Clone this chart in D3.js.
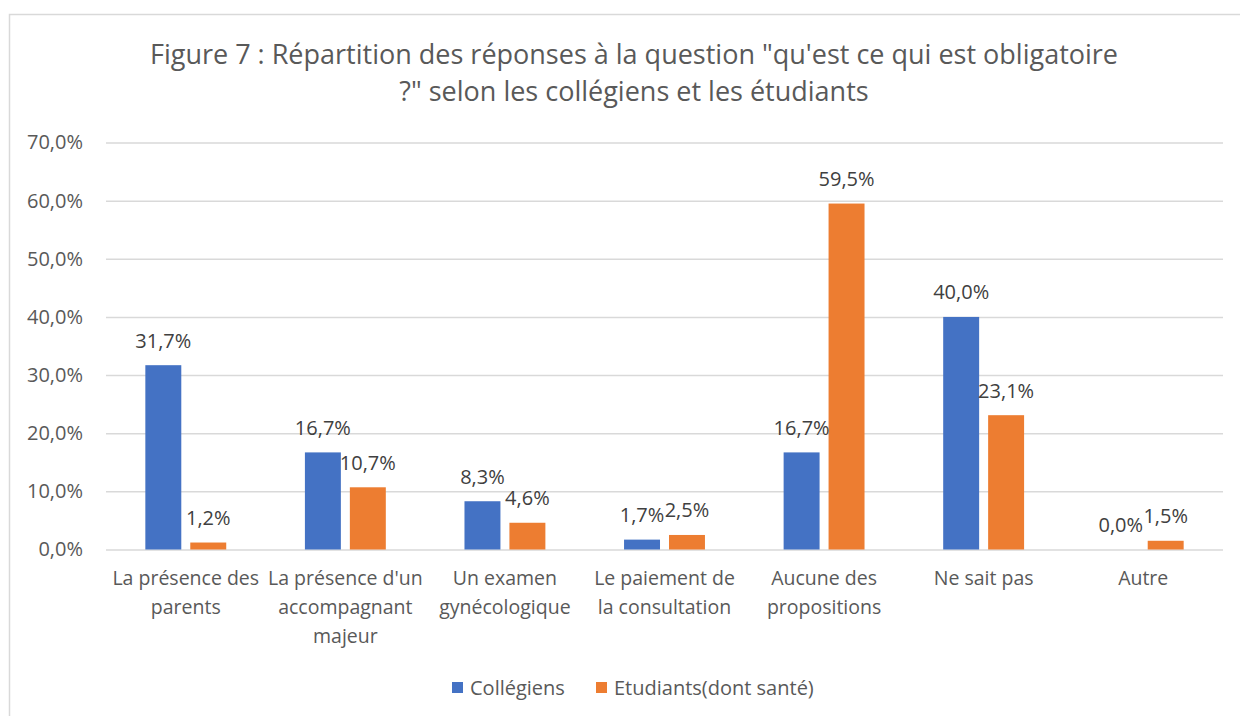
<!DOCTYPE html>
<html>
<head>
<meta charset="utf-8">
<script src="https://cdn.jsdelivr.net/npm/d3@7"></script>
<style>
  body { margin: 0; background: #fff; }
  text { font-family: "Open Sans", "Noto Sans", sans-serif; }
</style>
</head>
<body>
<div id="chart"></div>
<script>
// data
var categories = ["presence_parents", "accompagnant", "examen", "paiement", "aucune", "nsp", "autre"];
var categoryLabels = [
  ["La présence des", "parents"],
  ["La présence d'un", "accompagnant", "majeur"],
  ["Un examen", "gynécologique"],
  ["Le paiement de", "la consultation"],
  ["Aucune des", "propositions"],
  ["Ne sait pas"],
  ["Autre"]
];
var seriesNames = ["Collégiens", "Etudiants(dont santé)"];
var collegiens = [0.317, 0.167, 0.083, 0.017, 0.167, 0.400, 0.000];
var etudiants = [0.012, 0.107, 0.046, 0.025, 0.595, 0.231, 0.015];
var yTicks = [0, 0.1, 0.2, 0.3, 0.4, 0.5, 0.6, 0.7];
var titleLines = [
  "Figure 7 : Répartition des réponses à la question \"qu'est ce qui est obligatoire",
  "?\" selon les collégiens et les étudiants"
];
var colors = ["#4472C4", "#ED7D31"];

var svg = d3.select("#chart").append("svg").attr("width", 1240).attr("height", 716);

// chart frame
svg.append("rect")
  .attr("x", 9.5).attr("y", 14.5)
  .attr("width", 1260).attr("height", 720)
  .attr("fill", "#fff").attr("stroke", "#d9d9d9").attr("stroke-width", 1.5);

var fr = d3.formatLocale({decimal: ",", thousands: " ", grouping: [3], currency: ["", " €"]});
var pct = fr.format(".1%");

var x = d3.scaleBand().domain(categories).range([106, 1223]);
var bw = x.bandwidth();
var xSub = d3.scaleBand().domain(seriesNames)
  .range([bw * 0.2465, bw * 0.7535]).paddingInner(0.2);
var y = d3.scaleLinear().domain([0, 0.7]).range([549.5, 142.5]);

// title
svg.append("g").selectAll("text")
  .data(titleLines).enter().append("text")
  .attr("x", 634)
  .attr("y", function (d, i) { return 64 + i * 37; })
  .attr("text-anchor", "middle")
  .attr("font-size", 27)
  .attr("fill", "#595959")
  .text(function (d) { return d; });

// gridlines + y labels
var yAxis = d3.axisLeft(y).tickValues(yTicks).tickFormat(pct)
  .tickSize(-(1223 - 106)).tickPadding(23);
var gy = svg.append("g").attr("transform", "translate(106,0)").call(yAxis);
gy.select(".domain").remove();
gy.selectAll(".tick line").attr("stroke", "#d9d9d9").attr("stroke-width", 1.5);
gy.selectAll(".tick text").attr("font-size", 20).attr("fill", "#595959")
  .attr("font-family", "Open Sans");

// bars
var rows = categories.map(function (c, i) {
  return {cat: c, vals: [collegiens[i], etudiants[i]]};
});
var groups = svg.append("g").selectAll("g")
  .data(rows).enter().append("g")
  .attr("transform", function (d) { return "translate(" + x(d.cat) + ",0)"; });

groups.selectAll("rect")
  .data(function (d) { return d.vals.map(function (v, j) { return {s: seriesNames[j], v: v, j: j}; }); })
  .enter().append("rect")
  .attr("x", function (d) { return xSub(d.s); })
  .attr("width", xSub.bandwidth())
  .attr("y", function (d) { return y(d.v); })
  .attr("height", function (d) { return y(0) - y(d.v); })
  .attr("fill", function (d) { return colors[d.j]; });

groups.selectAll("text.val")
  .data(function (d) { return d.vals.map(function (v, j) { return {s: seriesNames[j], v: v}; }); })
  .enter().append("text")
  .attr("class", "val")
  .attr("x", function (d) { return xSub(d.s) + xSub.bandwidth() / 2; })
  .attr("y", function (d) { return y(d.v) - 17.5; })
  .attr("text-anchor", "middle")
  .attr("font-size", 20)
  .attr("fill", "#404040")
  .text(function (d) { return pct(d.v); });

// category labels
var gx = svg.append("g").selectAll("text")
  .data(categories).enter().append("text")
  .attr("x", function (d) { return x(d) + bw / 2; })
  .attr("y", 585)
  .attr("text-anchor", "middle")
  .attr("font-size", 19.5)
  .attr("fill", "#595959");
gx.selectAll("tspan")
  .data(function (d, i) { return categoryLabels[i]; })
  .enter().append("tspan")
  .attr("x", function () { return d3.select(this.parentNode).attr("x"); })
  .attr("dy", function (d, i) { return i === 0 ? 0 : 29; })
  .text(function (d) { return d; });

// legend
var legendX = [452, 596];
var lg = svg.append("g").selectAll("g")
  .data(seriesNames).enter().append("g")
  .attr("transform", function (d, i) { return "translate(" + legendX[i] + ",682)"; });
lg.append("rect").attr("width", 11).attr("height", 11)
  .attr("fill", function (d, i) { return colors[i]; });
lg.append("text").attr("x", 18).attr("y", 13)
  .attr("font-size", 20).attr("fill", "#595959")
  .text(function (d) { return d; });
</script>
</body>
</html>
